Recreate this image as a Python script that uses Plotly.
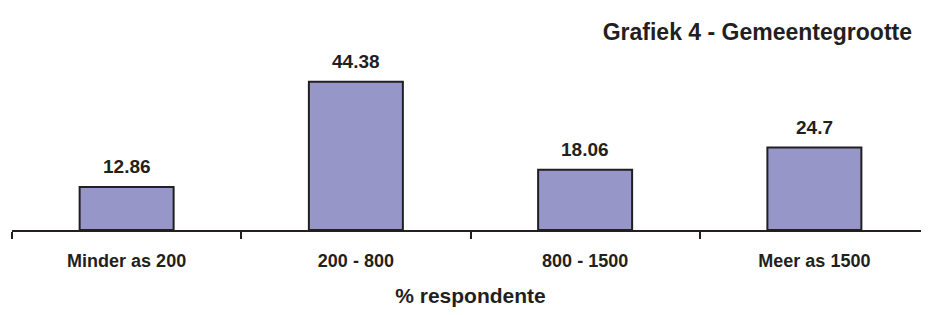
import plotly.graph_objects as go

categories = ["Minder as 200", "200 - 800", "800 - 1500", "Meer as 1500"]
values = [12.86, 44.38, 18.06, 24.7]
value_labels = ["12.86", "44.38", "18.06", "24.7"]

FONT = "Liberation Sans, Arial, sans-serif"
DARK = "#231F20"

fig = go.Figure()
fig.add_trace(go.Bar(
    x=categories, y=values,
    marker=dict(color="#9696C8", line=dict(color=DARK, width=2)),
    hoverinfo="skip",
))
for c, v, t in zip(categories, values, value_labels):
    fig.add_annotation(x=c, y=v, text=f"<b>{t}</b>", showarrow=False,
                       yanchor="bottom", yshift=8,
                       font=dict(family=FONT, size=19, color=DARK))

W, H = 921, 307
fig.update_layout(
    width=W, height=H,
    margin=dict(l=4, r=0, t=55, b=85),
    paper_bgcolor="white", plot_bgcolor="white",
    bargap=0.59,
    showlegend=False,
    title=dict(text="<b>Grafiek 4 - Gemeentegrootte</b>", xref="container", yref="container",
               x=904/W, xanchor="right", y=1-24/H, yanchor="middle",
               font=dict(family=FONT, size=23, color=DARK)),
    xaxis=dict(
        showline=True, linecolor=DARK, linewidth=2,
        ticks="outside", tickson="boundaries", ticklen=7, tickwidth=2, tickcolor=DARK,
        tickfont=dict(family=FONT, size=18, color=DARK),
        ticklabelstandoff=13,
        tickvals=categories, ticktext=[f"<b>{c}</b>" for c in categories],
        title=dict(text="<b>% respondente</b>", font=dict(family=FONT, size=21, color=DARK), standoff=19),
        showgrid=False, automargin=False,
    ),
    yaxis=dict(range=[0, 50], visible=False, showgrid=False),
)
fig.write_html("out.html")
